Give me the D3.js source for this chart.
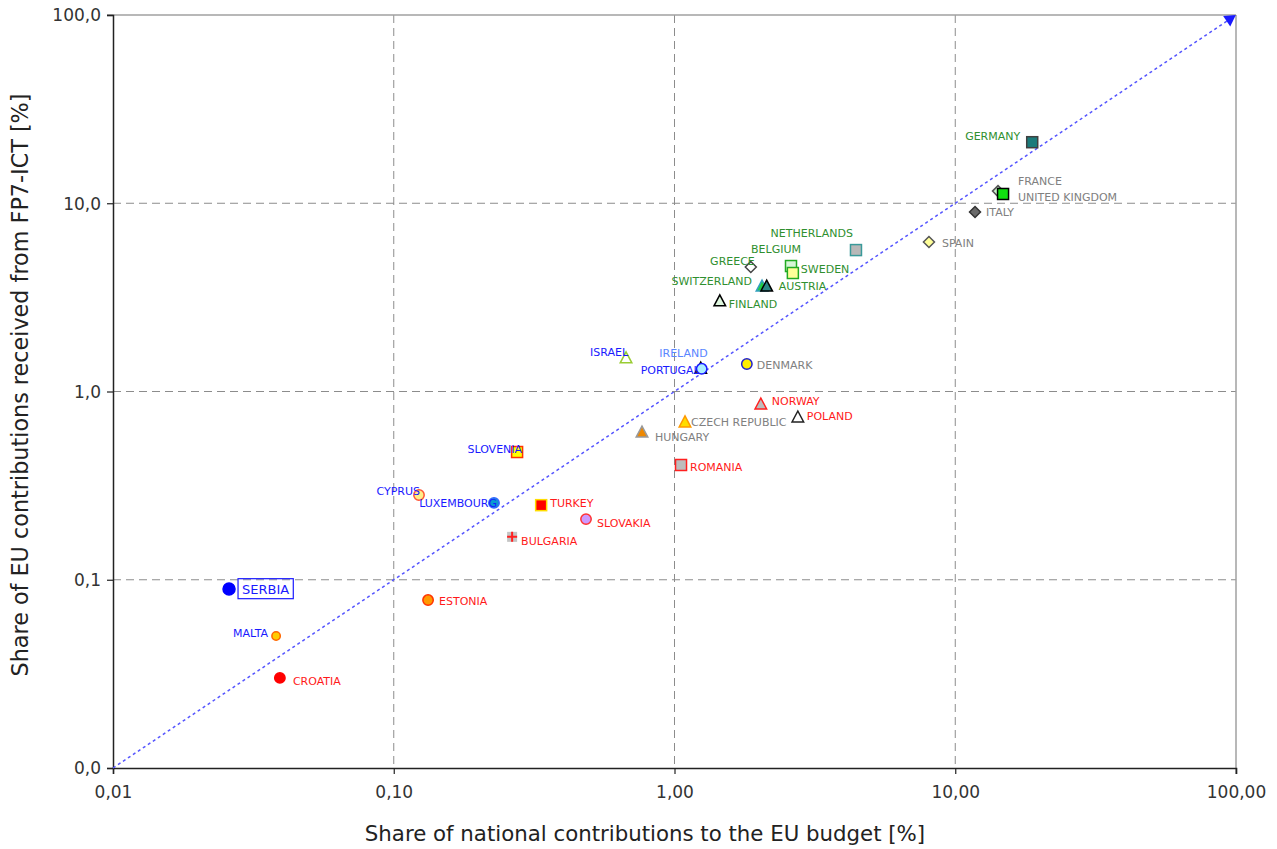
<!DOCTYPE html>
<html><head><meta charset="utf-8">
<script src="https://cdn.jsdelivr.net/npm/d3@7"></script>
<style>
body{margin:0;background:#fff;}
svg{display:block;font-family:"DejaVu Sans",Verdana,sans-serif;}
</style></head>
<body><svg id="c" width="1277" height="849"></svg>
<script>
// ---- data ----
const countries = ["GERMANY","FRANCE","UNITED KINGDOM","ITALY","SPAIN","NETHERLANDS","BELGIUM","SWEDEN","GREECE","SWITZERLAND","AUSTRIA","FINLAND","ISRAEL","PORTUGAL","IRELAND","DENMARK","NORWAY","POLAND","CZECH REPUBLIC","HUNGARY","ROMANIA","SLOVENIA","CYPRUS","LUXEMBOURG","TURKEY","SLOVAKIA","BULGARIA","SERBIA","ESTONIA","MALTA","CROATIA"];
const nationalShare = [18.8,14.2,14.8,11.76,8.06,4.43,2.60,2.64,1.87,2.05,2.13,1.45,0.672,1.24,1.25,1.81,2.03,2.75,1.09,0.766,1.055,0.275,0.123,0.2275,0.335,0.484,0.264,0.0259,0.1325,0.0381,0.0393];
const fp7Share = [21.1,11.6,11.2,8.99,6.23,5.64,4.64,4.26,4.59,3.63,3.63,3.03,1.51,1.33,1.32,1.40,0.858,0.732,0.689,0.609,0.407,0.477,0.282,0.256,0.249,0.210,0.169,0.0893,0.078,0.0503,0.0301];
const xTicks = [0.01,0.1,1,10,100];
const xTickLabels = ["0,01","0,10","1,00","10,00","100,00"];
const yTicks = [0.01,0.1,1,10,100];
const yTickLabels = ["0,0","0,1","1,0","10,0","100,0"];
const diagonal = [0.01, 95];

// ---- styles (per country) ----
const G="#2f8f2f", GR="#808080", B="#1a1aff", LB="#5a86ff", R="#ff1a1a";
const style = {
 "GERMANY":{s:"square",f:"#1b7b7b",k:"#404040",c:G,a:"end",dx:-12,dy:-6},
 "FRANCE":{s:"diamond",f:"#cdf3cd",k:"#555",c:GR,a:"start",dx:20,dy:-10},
 "UNITED KINGDOM":{s:"square",f:"#10e010",k:"#000",c:GR,a:"start",dx:15,dy:3},
 "ITALY":{s:"diamond",f:"#6a6a6a",k:"#333",c:GR,a:"start",dx:11,dy:0},
 "SPAIN":{s:"diamond",f:"#ffff99",k:"#555",c:GR,a:"start",dx:13,dy:1},
 "NETHERLANDS":{s:"square",f:"#b8b8b8",k:"#3a9a9a",c:G,a:"end",dx:-3,dy:-17},
 "BELGIUM":{s:"square",f:"#d6f6d6",k:"#22aa22",c:G,a:"end",dx:10,dy:-17},
 "SWEDEN":{s:"square",f:"#ffff99",k:"#22aa22",c:G,a:"start",dx:8,dy:-4},
 "GREECE":{s:"diamond",f:"#fff",k:"#444",c:G,a:"end",dx:4,dy:-6},
 "SWITZERLAND":{s:"triangle",f:"#22cc44",k:"#33a0c0",c:G,a:"end",dx:-10,dy:-5},
 "AUSTRIA":{s:"triangle",f:"#2a8585",k:"#000",c:G,a:"start",dx:12,dy:0},
 "FINLAND":{s:"triangle",f:"#dff7df",k:"#000",c:G,a:"start",dx:9,dy:3},
 "ISRAEL":{s:"triangle",f:"#fff",k:"#99cc33",c:B,a:"end",dx:2,dy:-6},
 "PORTUGAL":{s:"triangle",f:"#ff8833",k:"#000",c:B,a:"end",dx:-1,dy:2},
 "IRELAND":{s:"circle",f:"#aaeeff",k:"#1a1aff",c:LB,a:"end",dx:6,dy:-16},
 "DENMARK":{s:"circle",f:"#ffee00",k:"#2222cc",c:GR,a:"start",dx:10,dy:1},
 "NORWAY":{s:"triangle",f:"#bdbdbd",k:"#ff2020",c:R,a:"start",dx:11,dy:-3},
 "POLAND":{s:"triangle",f:"#fff",k:"#222",c:R,a:"start",dx:9,dy:-1},
 "CZECH REPUBLIC":{s:"triangle",f:"#ffdd00",k:"#ff9900",c:GR,a:"start",dx:6,dy:0},
 "HUNGARY":{s:"triangle",f:"#ee8800",k:"#999",c:GR,a:"start",dx:13,dy:5},
 "ROMANIA":{s:"square",f:"#bdbdbd",k:"#ff2020",c:R,a:"start",dx:9,dy:2},
 "SLOVENIA":{s:"square",f:"#ffff00",k:"#ff3300",c:B,a:"end",dx:5,dy:-3},
 "CYPRUS":{s:"circle",f:"#ffee88",k:"#ff5533",c:B,a:"end",dx:1,dy:-4},
 "LUXEMBOURG":{s:"circle",f:"#0a9ad0",k:"#3366ff",c:B,a:"end",dx:3,dy:0},
 "TURKEY":{s:"square",f:"#ff0000",k:"#ffdd00",c:R,a:"start",dx:9,dy:-2},
 "SLOVAKIA":{s:"circle",f:"#cc99ff",k:"#ff3333",c:R,a:"start",dx:11,dy:4},
 "BULGARIA":{s:"plus",f:"#c4c4c4",k:"#ff2020",c:R,a:"start",dx:9,dy:4},
 "SERBIA":{s:"circle",f:"#0000ff",k:"#0000ff",c:B,a:"start",dx:13,dy:0,box:true,r:6},
 "ESTONIA":{s:"circle",f:"#ff9900",k:"#ff3300",c:R,a:"start",dx:11,dy:1},
 "MALTA":{s:"circle",f:"#ffcc00",k:"#ff6600",c:B,a:"end",dx:-8,dy:-3,r:4.2},
 "CROATIA":{s:"circle",f:"#ff0000",k:"#ff0000",c:R,a:"start",dx:13,dy:3}
};

const svg = d3.select("#c");
const L=113, T=15, Rt=1236, Bm=768;
const x = d3.scaleLog().domain([0.01,100]).range([L,Rt]);
const y = d3.scaleLog().domain([0.01,100]).range([Bm,T]);

// grid
const g = svg.append("g");
xTicks.slice(1,-1).forEach(v=>{
  g.append("line").attr("x1",x(v)).attr("x2",x(v)).attr("y1",T).attr("y2",Bm)
   .attr("stroke","#8c8c8c").attr("stroke-dasharray","8,5").attr("stroke-width",1);
});
yTicks.slice(1,-1).forEach(v=>{
  g.append("line").attr("x1",L).attr("x2",Rt).attr("y1",y(v)).attr("y2",y(v))
   .attr("stroke","#8c8c8c").attr("stroke-dasharray","8,5").attr("stroke-width",1);
});
// top/right frame
svg.append("line").attr("x1",L-6).attr("x2",Rt).attr("y1",T).attr("y2",T).attr("stroke","#a0a0a0").attr("stroke-width",1.5);
svg.append("line").attr("x1",Rt).attr("x2",Rt).attr("y1",T).attr("y2",Bm+6).attr("stroke","#a0a0a0").attr("stroke-width",1.5);

// axes
const xAxis = d3.axisBottom(x).tickValues(xTicks).tickFormat((d,i)=>xTickLabels[i]).tickSize(6).tickPadding(12);
const yAxis = d3.axisLeft(y).tickValues(yTicks).tickFormat((d,i)=>yTickLabels[i]).tickSize(6).tickPadding(6);
const xa = svg.append("g").attr("transform",`translate(0,${Bm})`).call(xAxis);
const ya = svg.append("g").attr("transform",`translate(${L},0)`).call(yAxis);
[xa,ya].forEach(a=>{
  a.select(".domain").attr("stroke","#222").attr("stroke-width",1.5);
  a.selectAll(".tick line").attr("stroke","#222").attr("stroke-width",1.2);
  a.selectAll(".tick text").attr("fill","#333").style("font-size","17px").style("font-family","'DejaVu Sans',Verdana,sans-serif");
});
ya.selectAll(".tick text").attr("dy","0.35em");

// diagonal
svg.append("line").attr("x1",x(diagonal[0])).attr("y1",y(diagonal[0])).attr("x2",x(diagonal[1])).attr("y2",y(diagonal[1]))
  .attr("stroke","#5555ff").attr("stroke-width",1.5).attr("stroke-dasharray","3,3");
svg.append("path").attr("d",d3.symbol(d3.symbolTriangle,70)())
  .attr("transform",`translate(${x(diagonal[1])},${y(diagonal[1])}) rotate(${180 + Math.atan2(y(diagonal[1])-y(diagonal[0]), x(diagonal[1])-x(diagonal[0]))*180/Math.PI - 90})`)
  .attr("fill","#1a1aff");

// markers
const data = countries.map((c,i)=>({name:c,x:nationalShare[i],y:fp7Share[i],st:style[c]}));
const mk = svg.append("g");
data.forEach(d=>{
  const cx=x(d.x), cy=y(d.y), s=d.st;
  const gg = mk.append("g").attr("transform",`translate(${cx},${cy})`);
  if(s.s==="square"){
    gg.append("rect").attr("x",-5.5).attr("y",-5.5).attr("width",11).attr("height",11).attr("fill",s.f).attr("stroke",s.k).attr("stroke-width",1.5);
  } else if(s.s==="circle"){
    const r=s.r||5.2;
    gg.append("circle").attr("r",r).attr("fill",s.f).attr("stroke",s.k).attr("stroke-width",1.5);
  } else if(s.s==="diamond"){
    gg.append("path").attr("d","M0,-5.5L5.5,0L0,5.5L-5.5,0Z").attr("fill",s.f).attr("stroke",s.k).attr("stroke-width",1.5);
  } else if(s.s==="triangle"){
    gg.append("path").attr("d","M0,-6L5.8,5L-5.8,5Z").attr("fill",s.f).attr("stroke",s.k).attr("stroke-width",1.5);
  } else if(s.s==="plus"){
    gg.append("rect").attr("x",-5).attr("y",-5).attr("width",10).attr("height",10).attr("fill",s.f);
    gg.append("path").attr("d","M-5,0H5M0,-5V5").attr("stroke",s.k).attr("stroke-width",2);
  }
});
// labels
const lb = svg.append("g");
data.forEach(d=>{
  const s=d.st;
  const t = lb.append("text").attr("x",x(d.x)+s.dx).attr("y",y(d.y)+s.dy).attr("dy","0.36em")
    .attr("text-anchor",s.a).attr("fill",s.c).style("font-size",s.box?"13px":"11px").text(d.name);
  if(s.box){
    const bb=t.node().getBBox();
    lb.append("rect").attr("x",bb.x-4).attr("y",bb.y-3).attr("width",bb.width+8).attr("height",bb.height+5)
      .attr("fill","none").attr("stroke","#1a1aff").attr("stroke-width",1.2);
  }
});

// axis titles
svg.append("text").attr("x",645).attr("y",841).attr("text-anchor","middle")
  .attr("fill","#222").style("font-size","21.3px").text("Share of national contributions to the EU budget [%]");
svg.append("text").attr("transform",`translate(28,385) rotate(-90)`).attr("text-anchor","middle")
  .attr("fill","#222").style("font-size","22.3px").text("Share of EU contributions received from FP7-ICT [%]");
</script></body></html>
